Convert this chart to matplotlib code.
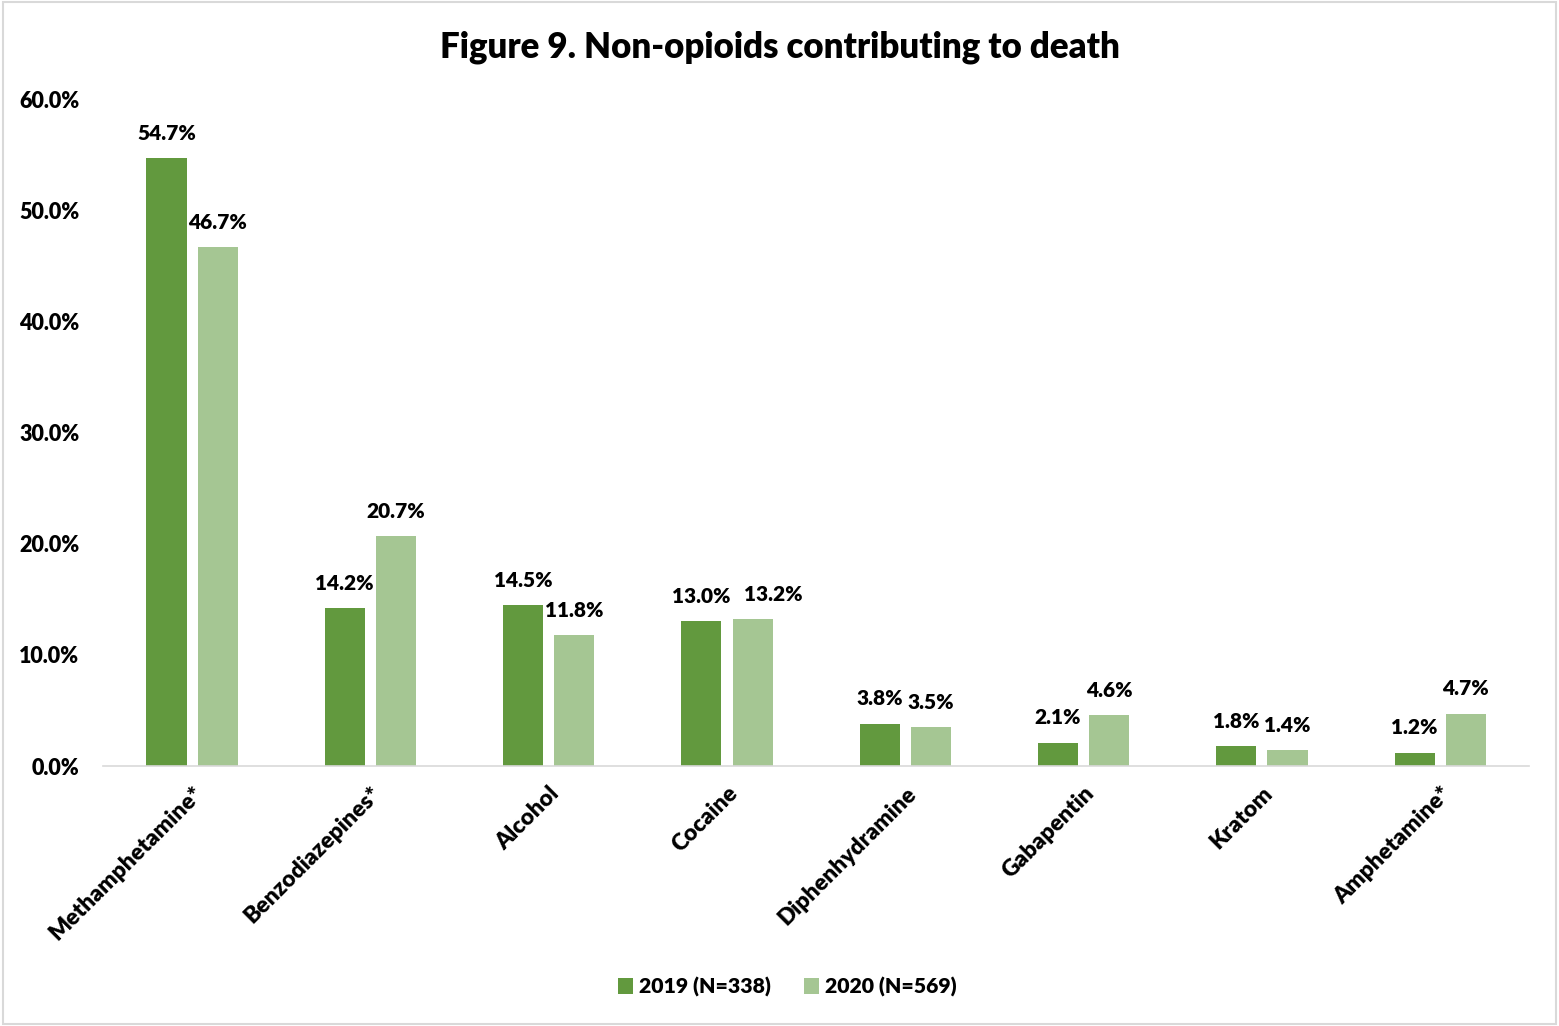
import matplotlib
matplotlib.use("Agg")
import matplotlib.pyplot as plt
from matplotlib.patches import Rectangle
import numpy as np

categories = ["Methamphetamine*", "Benzodiazepines*", "Alcohol", "Cocaine",
              "Diphenhydramine", "Gabapentin", "Kratom", "Amphetamine*"]
vals_2019 = [54.7, 14.2, 14.5, 13.0, 3.8, 2.1, 1.8, 1.2]
vals_2020 = [46.7, 20.7, 11.8, 13.2, 3.5, 4.6, 1.4, 4.7]
series_labels = ["2019 (N=338)", "2020 (N=569)"]
yticks = [0, 10, 20, 30, 40, 50, 60]

c2019 = "#62993E"
c2020 = "#A5C693"

plt.rcParams['font.family'] = ['Lato', 'DejaVu Sans']
plt.rcParams['font.weight'] = 'heavy'
W = 'heavy'

fig = plt.figure(figsize=(15.59, 10.26), dpi=100)
ax = fig.add_axes([0.066, 0.2534, 0.915, 0.6501])

x = np.arange(len(categories))
w = 0.225
off = 0.1435
b1 = ax.bar(x - off, vals_2019, w, color=c2019, label=series_labels[0])
b2 = ax.bar(x + off, vals_2020, w, color=c2020, label=series_labels[1])

# label nudges (points) to avoid overlap, as in the reference
nudge_2020 = {3: 15}
for si, (bars, vals) in enumerate(((b1, vals_2019), (b2, vals_2020))):
    for i, (r, v) in enumerate(zip(bars, vals)):
        dx = nudge_2020.get(i, 0) if si == 1 else 0
        ax.annotate(f"{v:.1f}%", (r.get_x() + r.get_width() / 2, v),
                    xytext=(dx, 11), textcoords="offset points",
                    ha="center", va="bottom", fontsize=15, fontweight=W)

ax.set_xlim(-0.5, len(categories) - 0.5)
ax.set_ylim(0, 60)
ax.set_yticks(yticks)
ax.set_yticklabels([f"{t:.1f}%" for t in yticks], fontsize=15.5, fontweight=W)
ax.set_xticks(x)
ax.set_xticklabels(categories, rotation=45, ha="right", rotation_mode="anchor",
                   fontsize=16.5, fontweight=W)
ax.tick_params(axis="both", length=0)
ax.tick_params(axis="y", pad=17)
ax.tick_params(axis="x", pad=12)
for s in ("left", "right", "top"):
    ax.spines[s].set_visible(False)
ax.spines["bottom"].set_color("#D9D9D9")
ax.spines["bottom"].set_linewidth(1.2)

fig.suptitle("Figure 9. Non-opioids contributing to death", y=0.97,
             fontsize=25, fontweight=W)

fig.legend(handles=[b1, b2], labels=series_labels, loc="center",
           bbox_to_anchor=(0.505, 0.038), ncol=2, frameon=False,
           prop={"size": 15.3, "weight": W}, handlelength=0.7,
           handleheight=0.75, handletextpad=0.25, columnspacing=1.6)

fig.patches.append(Rectangle((0.002, 0.002), 0.996, 0.996, transform=fig.transFigure,
                             fill=False, edgecolor="#D9D9D9", linewidth=1.5))

fig.savefig("out.png", dpi=100)
